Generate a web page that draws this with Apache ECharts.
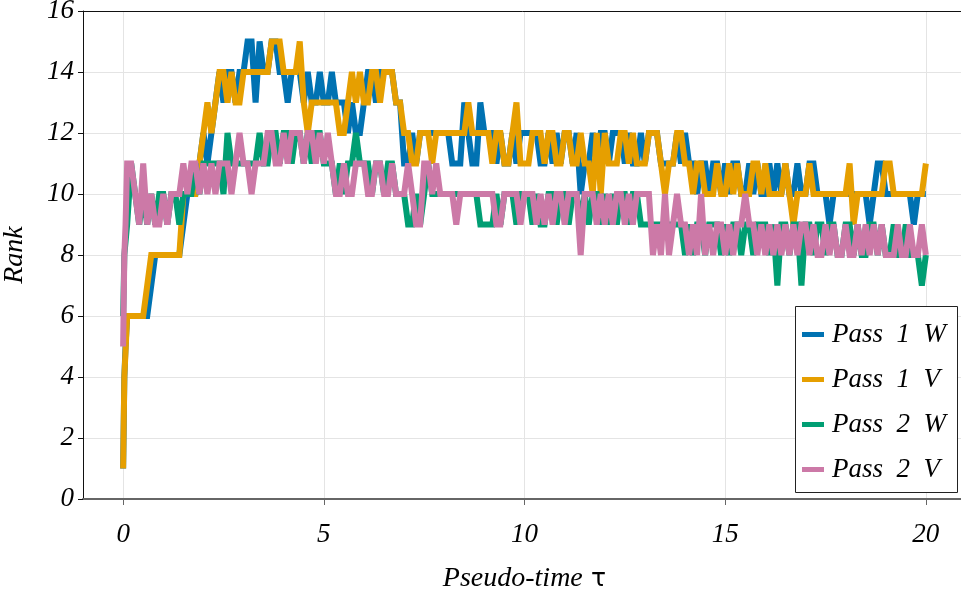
<!DOCTYPE html>
<html>
<head>
<meta charset="utf-8">
<script src="https://cdn.jsdelivr.net/npm/echarts@6/dist/echarts.min.js"></script>
<style>
  html, body { margin: 0; padding: 0; background: #fff; }
  #chart { width: 961px; height: 596px; }
</style>
</head>
<body>
<div id="chart"></div>
<script>
// Pseudo-time samples: three early points, then steps of 0.1 up to 20
const tauEarly = [0, 0.03, 0.06];
const dTau = 0.1;
const nSteps = 200;
const tau = tauEarly.concat(Array.from({ length: nSteps }, (_, i) => +((i + 1) * dTau).toFixed(1)));

const xTicks = [0, 5, 10, 15, 20];
const seriesNames = ['Pass 1 W', 'Pass 1 V', 'Pass 2 W', 'Pass 2 V'];

// Rank per sample (early points first, then one row of ten per unit of τ)
const pass1W = [1, 4, 5,
  6, 6, 6, 6, 6, 6, 7, 8, 8, 8,
  8, 8, 8, 8, 9, 10, 10, 10, 11, 12,
  11, 12, 13, 14, 13, 14, 14, 13, 14, 14,
  15, 15, 13, 15, 14, 14, 15, 15, 14, 14,
  13, 14, 14, 14, 13, 14, 13, 13, 14, 13,
  13, 14, 13, 13, 13, 12, 13, 12, 12, 13,
  14, 14, 13, 14, 14, 14, 14, 13, 13, 11,
  11, 12, 11, 12, 12, 12, 12, 12, 12, 12,
  12, 11, 11, 11, 13, 12, 11, 11, 13, 12,
  12, 12, 11, 12, 11, 11, 12, 11, 12, 12,
  12, 12, 12, 11, 11, 12, 11, 12, 11, 12,
  12, 11, 12, 10, 11, 11, 12, 11, 12, 12,
  11, 12, 12, 12, 11, 12, 11, 11, 12, 11,
  12, 12, 12, 11, 11, 11, 11, 12, 11, 12,
  11, 11, 10, 11, 11, 10, 11, 11, 10, 11,
  10, 11, 11, 10, 10, 11, 10, 11, 10, 10,
  11, 10, 11, 10, 11, 10, 10, 11, 10, 10,
  11, 11, 10, 10, 10, 9, 10, 10, 10, 10,
  10, 10, 10, 10, 10, 9, 10, 11, 11, 10,
  10, 10, 10, 10, 10, 10, 9, 10, 10, 10];

const pass1V = [1, 4, 4,
  6, 6, 6, 6, 6, 7, 8, 8, 8, 8,
  8, 8, 8, 8, 10, 10, 10, 10, 11, 12,
  13, 12, 13, 14, 14, 13, 14, 13, 13, 14,
  14, 14, 14, 14, 14, 14, 15, 15, 15, 14,
  14, 14, 14, 15, 13, 12, 13, 13, 13, 13,
  13, 13, 13, 12, 12, 13, 14, 13, 14, 13,
  13, 14, 14, 13, 14, 14, 14, 13, 13, 12,
  12, 11, 11, 12, 12, 12, 11, 12, 12, 12,
  12, 12, 12, 12, 12, 13, 12, 12, 12, 12,
  12, 11, 12, 12, 11, 11, 12, 13, 11, 11,
  11, 12, 12, 12, 11, 12, 12, 11, 11, 12,
  12, 11, 11, 12, 11, 11, 10, 12, 10, 12,
  11, 11, 11, 12, 12, 11, 12, 11, 11, 11,
  12, 12, 12, 11, 10, 11, 11, 12, 12, 11,
  11, 10, 11, 11, 10, 10, 10, 11, 10, 10,
  11, 10, 11, 10, 10, 10, 11, 11, 10, 11,
  10, 10, 10, 10, 11, 10, 9, 10, 10, 10,
  11, 10, 10, 10, 10, 10, 10, 10, 10, 10,
  11, 9, 10, 10, 10, 10, 10, 10, 10, 11,
  11, 10, 10, 10, 10, 10, 10, 10, 10, 11];

const pass2W = [6, 8, 8,
  9, 11, 10, 9, 10, 9, 10, 9, 10, 10,
  9, 10, 10, 9, 10, 10, 10, 11, 10, 11,
  11, 11, 11, 11, 10, 12, 11, 11, 11, 11,
  11, 11, 11, 12, 11, 11, 12, 12, 11, 12,
  12, 11, 12, 12, 11, 12, 11, 12, 12, 11,
  11, 11, 10, 11, 10, 11, 11, 12, 11, 11,
  11, 10, 11, 11, 10, 11, 11, 10, 10, 10,
  9, 9, 10, 9, 10, 11, 10, 10, 10, 10,
  10, 10, 10, 10, 10, 10, 10, 10, 9, 9,
  9, 9, 10, 9, 10, 10, 10, 9, 10, 10,
  10, 9, 10, 9, 9, 10, 10, 9, 10, 10,
  9, 10, 10, 9, 10, 9, 10, 10, 9, 10,
  9, 10, 9, 10, 10, 9, 10, 10, 9, 9,
  9, 9, 9, 9, 9, 9, 9, 9, 9, 8,
  9, 8, 9, 9, 8, 9, 9, 9, 8, 9,
  8, 9, 9, 8, 9, 9, 8, 9, 9, 9,
  8, 9, 7, 9, 9, 8, 9, 9, 7, 9,
  9, 8, 9, 9, 8, 9, 9, 8, 8, 9,
  9, 8, 9, 8, 8, 9, 9, 8, 9, 8,
  8, 9, 8, 8, 9, 8, 8, 8, 7, 8];

const pass2V = [5, 8, 9,
  11, 11, 10, 9, 11, 9, 10, 9, 9, 10,
  9, 10, 10, 10, 11, 10, 11, 11, 10, 11,
  10, 11, 10, 11, 11, 11, 10, 11, 12, 11,
  11, 10, 11, 11, 11, 12, 12, 11, 11, 12,
  11, 12, 12, 12, 11, 12, 12, 11, 12, 11,
  12, 11, 10, 10, 11, 10, 10, 11, 11, 11,
  10, 10, 11, 11, 10, 10, 11, 10, 10, 10,
  11, 10, 9, 9, 11, 11, 10, 11, 10, 10,
  10, 10, 9, 10, 10, 10, 10, 10, 10, 10,
  10, 10, 9, 9, 10, 10, 10, 10, 9, 10,
  10, 10, 9, 10, 9, 10, 9, 10, 10, 9,
  10, 10, 10, 8, 10, 10, 10, 9, 10, 9,
  10, 9, 10, 10, 9, 10, 9, 10, 10, 10,
  10, 8, 9, 8, 10, 8, 9, 10, 9, 9,
  8, 9, 8, 10, 8, 9, 8, 9, 9, 8,
  9, 8, 9, 9, 10, 9, 9, 8, 9, 8,
  9, 8, 9, 8, 9, 8, 9, 8, 9, 9,
  8, 9, 8, 8, 9, 8, 9, 8, 8, 9,
  8, 8, 9, 8, 9, 8, 9, 8, 9, 8,
  8, 8, 9, 8, 8, 9, 8, 8, 9, 8];

const seriesValues = [pass1W, pass1V, pass2W, pass2V];
const colors = ['#0072B2', '#E69F00', '#009E73', '#CC79A7'];

const serif = '"Liberation Serif", "DejaVu Serif", serif';

const chart = echarts.init(document.getElementById('chart'), null, { renderer: 'canvas' });

const series = seriesNames.map((name, k) => ({
  name,
  type: 'line',
  xAxisIndex: 0,
  yAxisIndex: 0,
  data: tau.map((t, i) => [t, seriesValues[k][i]]),
  showSymbol: false,
  symbol: 'none',
  animation: false,
  z: 2 + k,
  lineStyle: { width: 6, color: colors[k], join: 'miter', miterLimit: 2 },
  itemStyle: { color: colors[k] }
}));

chart.setOption({
  animation: false,
  color: colors,
  grid: { left: 83, right: -5, top: 11, bottom: 97, containLabel: false, outerBoundsMode: 'none' },
  xAxis: [{
    type: 'value',
    min: -1,
    max: 21,
    position: 'bottom',
    name: '{i|Pseudo-time} {t|τ}',
    nameLocation: 'middle',
    nameGap: 66,
    nameTextStyle: {
      rich: {
        i: { fontFamily: serif, fontStyle: 'italic', fontSize: 28, color: '#000' },
        t: { fontFamily: '"DejaVu Sans", sans-serif', fontSize: 25, color: '#000', padding: [0, 0, 0, 5] }
      }
    },
    axisLine: { show: true, onZero: false, lineStyle: { color: '#666', width: 2 } },
    axisTick: { show: true, inside: false, length: 6, customValues: xTicks, lineStyle: { color: '#666', width: 1 } },
    axisLabel: {
      customValues: xTicks,
      margin: 22,
      fontFamily: serif, fontStyle: 'italic', fontSize: 27, color: '#000'
    },
    splitLine: { show: true, lineStyle: { color: '#e4e4e4', width: 1 } }
  }, {
    type: 'value',
    min: -1,
    max: 21,
    position: 'top',
    axisLine: { show: true, onZero: false, lineStyle: { color: '#111', width: 1 } },
    axisTick: { show: false },
    axisLabel: { show: false },
    splitLine: { show: false }
  }],
  yAxis: {
    type: 'value',
    min: 0,
    max: 16,
    interval: 2,
    name: 'Rank',
    nameLocation: 'middle',
    nameGap: 54,
    nameTextStyle: { fontFamily: serif, fontStyle: 'italic', fontSize: 28, color: '#000' },
    axisLine: { show: true, onZero: false, lineStyle: { color: '#111', width: 1 } },
    axisTick: { show: true, inside: false, length: 5, lineStyle: { color: '#111' } },
    axisLabel: { margin: 9, fontFamily: serif, fontStyle: 'italic', fontSize: 27, color: '#000' },
    splitLine: { show: true, lineStyle: { color: '#e4e4e4', width: 1 } }
  },
  legend: {
    orient: 'vertical',
    left: 802,
    top: 321,
    padding: 0,
    itemGap: 18,
    itemWidth: 22,
    itemHeight: 5,
    icon: 'rect',
    z: 20,
    data: seriesNames,
    formatter: name => name.replace(/ /g, '  '),
    textStyle: {
      fontFamily: serif, fontStyle: 'italic', fontSize: 27, lineHeight: 26,
      color: '#000', padding: [0, 0, 0, 3]
    }
  },
  graphic: [{
    type: 'rect',
    z: 10,
    shape: { x: 795.5, y: 306.5, width: 162, height: 186 },
    style: { fill: '#fff', stroke: '#222', lineWidth: 1 }
  }],
  series
});
</script>
</body>
</html>
